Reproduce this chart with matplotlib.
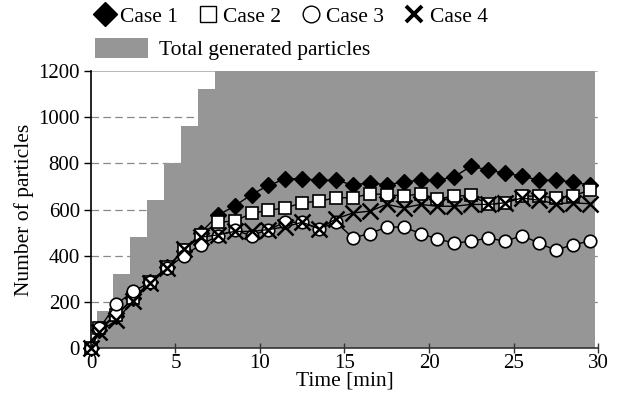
import matplotlib
matplotlib.use("Agg")
import matplotlib.pyplot as plt
from matplotlib.lines import Line2D
from matplotlib.patches import Patch

plt.rcParams['font.family'] = ['Liberation Serif', 'DejaVu Serif']

# ---- data ----
times = [0, 0.5, 1.5, 2.5, 3.5, 4.5, 5.5, 6.5, 7.5, 8.5, 9.5, 10.5, 11.5, 12.5,
         13.5, 14.5, 15.5, 16.5, 17.5, 18.5, 19.5, 20.5, 21.5, 22.5, 23.5, 24.5,
         25.5, 26.5, 27.5, 28.5, 29.5]
case1 = [0, 80, 140, 215, 285, 350, 420, 500, 575, 615, 665, 704, 733, 733, 727,
         727, 706, 716, 706, 720, 727, 727, 742, 788, 771, 757, 745, 727, 727, 720, 705]
case2 = [0, 85, 145, 215, 285, 350, 425, 490, 545, 550, 583, 597, 607, 629, 636,
         651, 651, 668, 665, 658, 668, 646, 658, 661, 622, 629, 658, 658, 651, 658, 684]
case3 = [0, 85, 190, 245, 285, 345, 400, 448, 485, 510, 487, 513, 545, 545, 516,
         545, 477, 496, 524, 524, 496, 472, 455, 462, 477, 462, 487, 455, 423, 448, 462]
case4 = [0, 70, 120, 205, 280, 345, 430, 480, 490, 505, 505, 513, 525, 545, 516,
         560, 585, 593, 622, 607, 622, 614, 614, 622, 622, 629, 650, 640, 625, 629, 625]

gen_edges = [0.33, 1.33, 2.33, 3.33, 4.33, 5.33, 6.33, 7.33, 8.33, 9.33, 10.33,
             11.33, 12.33, 13.33, 14.33, 15.33, 16.33, 17.33, 18.33, 19.33, 20.33,
             21.33, 22.33, 23.33, 24.33, 25.33, 26.33, 27.33, 28.33, 29.33, 29.85]
gen_total = [160, 320, 480, 640, 800, 960, 1120, 1280, 1440, 1600, 1760, 1920,
             2080, 2240, 2400, 2560, 2720, 2880, 3040, 3200, 3360, 3520, 3680,
             3840, 4000, 4160, 4320, 4480, 4640, 4800]

x_ticks = [0, 5, 10, 15, 20, 25, 30]
y_ticks = [0, 200, 400, 600, 800, 1000, 1200]

# ---- figure ----
fig = plt.figure(figsize=(6.21, 3.98), dpi=100)
ax = fig.add_axes([0.1465, 0.1256, 0.8165, 0.696])

gray = '#969696'
ax.stairs(gen_total, gen_edges, fill=True, color=gray, zorder=1, linewidth=0)

# grid lines
for yv in y_ticks[1:-1]:
    ax.axhline(yv, color='#888888', lw=0.9, dashes=(6, 3.5), zorder=0.5)
ax.axhline(1200, color='#aaaaaa', lw=1.2, zorder=0.5)

lw = 1.0
ax.plot(times, case1, color='black', lw=lw, marker='D', ms=8.5,
        mfc='black', mec='black', zorder=3, clip_on=False)
ax.plot(times, case2, color='black', lw=lw, marker='s', ms=9,
        mfc='white', mec='black', mew=1.2, zorder=4, clip_on=False)
ax.plot(times, case4, color='black', lw=lw, marker='x', ms=11,
        mec='black', mew=1.8, zorder=5, clip_on=False)
ax.plot(times, case3, color='black', lw=lw, marker='o', ms=9,
        mfc='white', mec='black', mew=1.2, zorder=4.5, clip_on=False)

ax.set_xlim(0, 30)
ax.set_ylim(0, 1200)
ax.set_xticks(x_ticks)
ax.set_yticks(y_ticks)
ax.tick_params(axis='both', labelsize=15, colors='black')
ax.tick_params(axis='y', direction='out', length=5, width=1, pad=3)
ax.tick_params(axis='x', direction='inout', length=7, width=1, color='#333333', pad=1)

for s in ['top', 'right']:
    ax.spines[s].set_visible(False)
ax.spines['left'].set_color('black')
ax.spines['left'].set_linewidth(1.2)
ax.spines['bottom'].set_color('#333333')
ax.spines['bottom'].set_linewidth(1.2)
ax.spines['left'].set_zorder(6)
ax.spines['bottom'].set_zorder(2)

ax.set_ylabel('Number of particles', fontsize=15.5, labelpad=3)
ax.set_xlabel('Time [min]', fontsize=15.5)
ax.xaxis.set_label_coords(0.5, -0.085)

# ---- legends ----
handles = [
    Line2D([], [], ls='none', marker='D', ms=12, mfc='black', mec='black'),
    Line2D([], [], ls='none', marker='s', ms=11, mfc='white', mec='black', mew=1.0),
    Line2D([], [], ls='none', marker='o', ms=12, mfc='white', mec='black', mew=1.0),
    Line2D([], [], ls='none', marker='x', ms=12, mec='black', mew=2.8),
]
labels = ['Case 1', 'Case 2', 'Case 3', 'Case 4']
leg1 = fig.legend(handles, labels, loc='upper left', bbox_to_anchor=(0.143, 1.0),
                  ncol=4, frameon=False, fontsize=15.5, handlelength=0.9,
                  handletextpad=0.25, columnspacing=0.95, borderaxespad=0.15,
                  borderpad=0.15)
leg2 = fig.legend([Patch(facecolor=gray, edgecolor='none')], ['Total generated particles'],
                  loc='upper left', bbox_to_anchor=(0.143, 0.922), frameon=False,
                  fontsize=15.5, handlelength=2.45, handleheight=1.1,
                  handletextpad=0.5, borderaxespad=0.15, borderpad=0.15)

fig.savefig('out.png', dpi=100)
